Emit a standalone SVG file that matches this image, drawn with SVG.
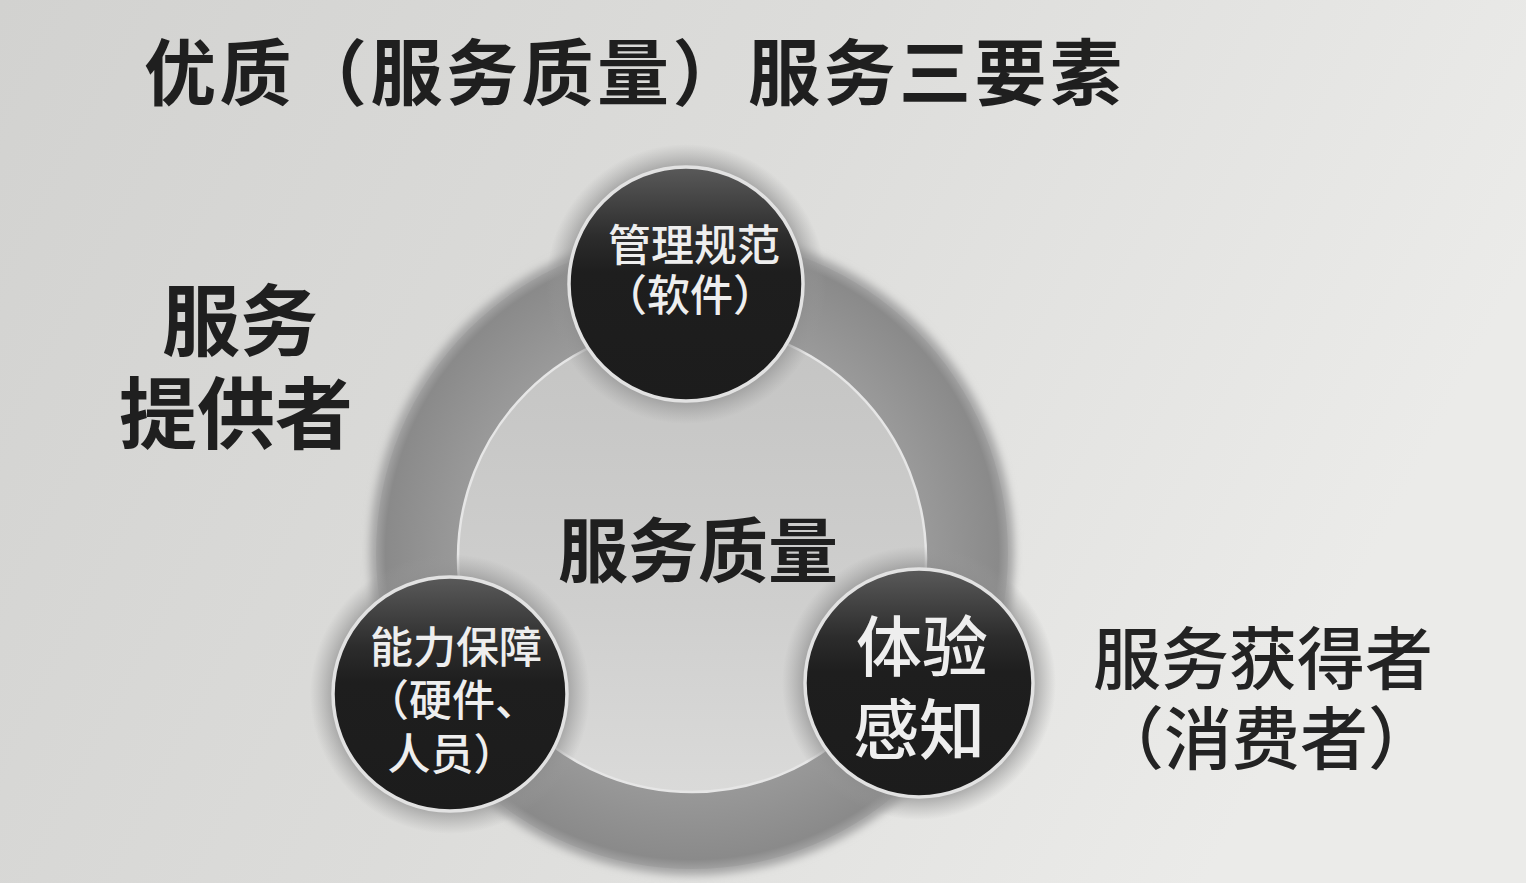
<svg xmlns="http://www.w3.org/2000/svg" width="1526" height="883" viewBox="0 0 1526 883">
  <defs>
    <linearGradient id="bg" x1="0" y1="0" x2="1" y2="0.3">
      <stop offset="0" stop-color="#d2d2d0"/>
      <stop offset="0.5" stop-color="#dcdcda"/>
      <stop offset="1" stop-color="#ebebe9"/>
    </linearGradient>
    <radialGradient id="ringGrad" cx="0.5" cy="0.5" r="0.5">
      <stop offset="0.70" stop-color="#9c9c9c"/>
      <stop offset="0.88" stop-color="#909090"/>
      <stop offset="0.97" stop-color="#8a8a8a"/>
      <stop offset="1" stop-color="#a0a0a0"/>
    </radialGradient>
    <linearGradient id="innerGrad" x1="0" y1="0" x2="0" y2="1">
      <stop offset="0" stop-color="#c4c4c3"/>
      <stop offset="0.6" stop-color="#cfcfce"/>
      <stop offset="1" stop-color="#dadad9"/>
    </linearGradient>
    <linearGradient id="darkGrad" x1="0" y1="0" x2="0" y2="1">
      <stop offset="0" stop-color="#5a5a5a"/>
      <stop offset="0.3" stop-color="#2c2c2c"/>
      <stop offset="0.45" stop-color="#1e1e1e"/>
      <stop offset="1" stop-color="#1c1c1c"/>
    </linearGradient>
    <radialGradient id="haloGrad" cx="0.5" cy="0.5" r="0.5">
      <stop offset="0.78" stop-color="#8a8a8a" stop-opacity="0.9"/>
      <stop offset="1" stop-color="#9a9a9a" stop-opacity="0"/>
    </radialGradient>
    <filter id="soft" x="-10%" y="-10%" width="120%" height="120%">
      <feGaussianBlur stdDeviation="4"/>
    </filter>
    <style>
      .cjk { font-family: "Noto Sans CJK SC", "Noto Sans CJK TC", sans-serif; }
      .dark { fill: #1f1f1f; font-weight: 700; }
      .side { fill: #232323; font-weight: 500; }
      .white { fill: #eeeeee; font-weight: 500; text-anchor: middle; }
      .disc { fill: url(#darkGrad); stroke: #e2e2e2; stroke-width: 3.5; }
      .halo { fill: url(#haloGrad); }
    </style>
  </defs>

  <rect x="0" y="0" width="1526" height="883" fill="url(#bg)"/>

  <g id="title">
    <text class="cjk dark" x="144" y="99" font-size="72" textLength="978" lengthAdjust="spacing">优质（服务质量）服务三要素</text>
  </g>

  <g id="provider">
    <text class="cjk dark" x="240" y="350" font-size="78" text-anchor="middle">服务</text>
    <text class="cjk dark" x="236" y="443" font-size="78" text-anchor="middle">提供者</text>
  </g>

  <g id="consumer">
    <text class="cjk side" x="1263" y="684" font-size="68" text-anchor="middle">服务获得者</text>
    <text class="cjk side" x="1266" y="764" font-size="68" text-anchor="middle">（消费者）</text>
  </g>

  <g id="quality">
    <circle cx="692" cy="553" r="322" fill="#a4a4a4" filter="url(#soft)"/>
    <circle cx="692" cy="553" r="316" fill="url(#ringGrad)"/>
    <circle cx="692" cy="558" r="234" fill="url(#innerGrad)" stroke="#e6e6e6" stroke-width="2.5"/>
    <text class="cjk dark" x="698" y="577" font-size="70" text-anchor="middle">服务质量</text>
  </g>

  <g id="connectors"></g>

  <g id="node-management">
    <circle class="halo" cx="686" cy="284" r="140"/>
    <circle class="disc" cx="686" cy="284" r="117"/>
    <text class="cjk white" x="694" y="261" font-size="43">管理规范</text>
    <text class="cjk white" x="690" y="311" font-size="43">（软件）</text>
  </g>

  <g id="node-capability">
    <circle class="halo" cx="450" cy="694" r="140"/>
    <circle class="disc" cx="450" cy="694" r="117"/>
    <text class="cjk white" x="456" y="663" font-size="43">能力保障</text>
    <text class="cjk white" x="452" y="716" font-size="43">（硬件、</text>
    <text class="cjk white" x="452" y="770" font-size="43">人员）</text>
  </g>

  <g id="node-experience">
    <circle class="halo" cx="919" cy="683" r="137"/>
    <circle class="disc" cx="919" cy="683" r="114"/>
    <text class="cjk white" x="922" y="671" font-size="66">体验</text>
    <text class="cjk white" x="919" y="754" font-size="66">感知</text>
  </g>
</svg>
